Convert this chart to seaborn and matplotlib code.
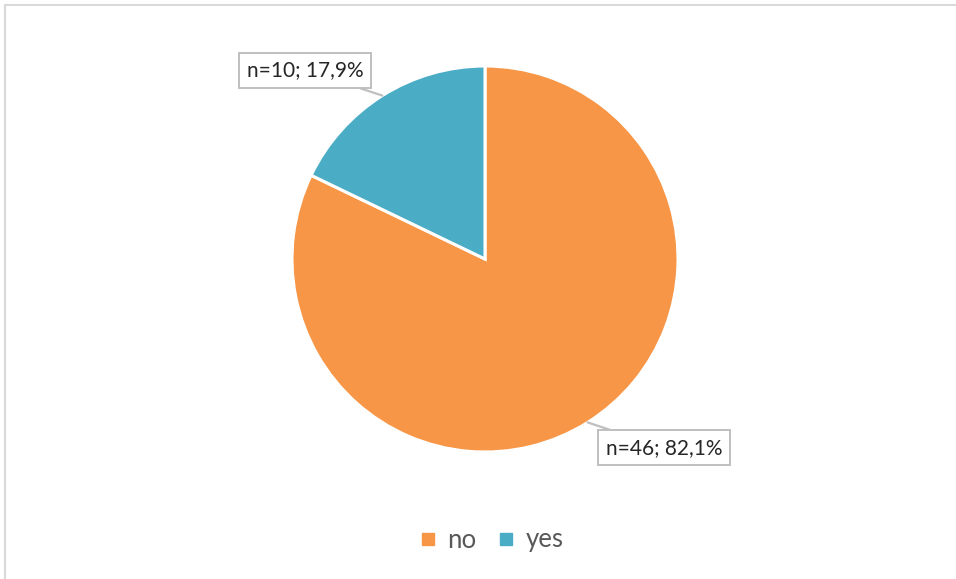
import matplotlib
matplotlib.use("Agg")
import matplotlib.pyplot as plt
import matplotlib.patches as mpatches
from matplotlib.lines import Line2D
import numpy as np
import seaborn as sns

# data
categories = ["no", "yes"]
counts = [46, 10]
percents = ["82,1%", "17,9%"]
colors = ["#F79646", "#4BACC6"]

sns.set_theme(style="white")
plt.rcParams['font.family'] = ['Lato', 'DejaVu Sans']

W, H = 956, 579
fig = plt.figure(figsize=(W / 100, H / 100), dpi=100)

# pie centre (485, 259) px, radius 193 px
cx, cy, r = 485, 259, 193
ax = fig.add_axes([(cx - r) / W, (H - cy - r) / H, 2 * r / W, 2 * r / H])

wedges, _ = ax.pie(counts, colors=colors, startangle=90, counterclock=False,
                   wedgeprops=dict(edgecolor="white", linewidth=2.2))
ax.set_xlim(-1, 1)
ax.set_ylim(-1, 1)
ax.set_aspect("equal")
ax.axis("off")

# data labels with leader lines
label_pos = {"no": (0.927, -0.979), "yes": (-0.933, 0.979)}
for w, cat, n, p in zip(wedges, categories, counts, percents):
    ang = np.deg2rad((w.theta1 + w.theta2) / 2)
    xy = (np.cos(ang), np.sin(ang))
    ax.annotate(f"n={n}; {p}", xy=xy, xytext=label_pos[cat],
                ha="center", va="center", fontsize=15, color="#262626",
                annotation_clip=False,
                bbox=dict(boxstyle="square,pad=0.36", fc="white", ec="#BFBFBF", lw=1.4),
                arrowprops=dict(arrowstyle="-", color="#BFBFBF", lw=1.6,
                                shrinkA=0, shrinkB=0))

# legend
handles = [Line2D([], [], marker="s", linestyle="none", markersize=8,
                  markerfacecolor=c, markeredgecolor=c) for c in colors]
fig.legend(handles, categories, loc="center", bbox_to_anchor=(490 / W, 1 - 540 / H),
           ncol=2, frameon=False, fontsize=18.5, labelcolor="#595959",
           handletextpad=0.3, columnspacing=0.7, handlelength=0.9)

# chart frame
fig.patches.append(mpatches.Rectangle((4.5 / W, -0.05), 1.2, 1 - 4.5 / H + 0.05,
                                      transform=fig.transFigure, fill=False,
                                      ec="#D9D9D9", lw=1.5, zorder=0))

fig.savefig("out.png", dpi=100, facecolor="white")
